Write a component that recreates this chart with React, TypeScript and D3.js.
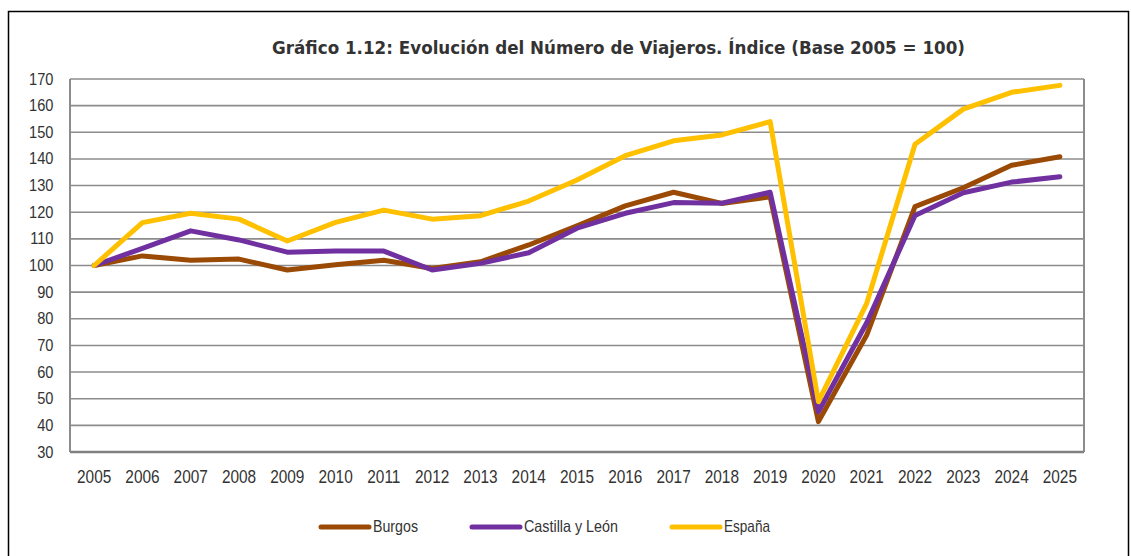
import React from "react";
import * as d3 from "d3";

const years = ["2005","2006","2007","2008","2009","2010","2011","2012","2013","2014","2015","2016","2017","2018","2019","2020","2021","2022","2023","2024","2025"];
const burgos = [100, 103.6, 102.0, 102.4, 98.3, 100.3, 102.0, 98.9, 101.4, 107.7, 114.9, 122.4, 127.5, 123.3, 125.8, 41.4, 73.9, 122.1, 129.2, 137.6, 140.8];
const castilla = [100, 106.4, 113.0, 109.6, 105.0, 105.4, 105.4, 98.3, 100.8, 104.8, 114.0, 119.6, 123.6, 123.4, 127.5, 45.1, 78.5, 118.8, 127.3, 131.3, 133.3];
const espana = [100, 116.1, 119.6, 117.4, 109.2, 116.2, 120.8, 117.4, 118.7, 124.2, 132.1, 141.2, 146.8, 149.0, 154.0, 48.9, 85.8, 145.5, 158.7, 165.0, 167.6];
const yTicks = [30, 40, 50, 60, 70, 80, 90, 100, 110, 120, 130, 140, 150, 160, 170];

const seriesNames = ["Burgos", "Castilla y León", "España"];
const seriesColors = ["#9A4A04", "#7030A0", "#FFC000"];
const seriesData = [burgos, castilla, espana];

const W = 1131, H = 556;
const plot = { left: 70, right: 1084, top: 79, bottom: 452 };
const axisFont = "Liberation Sans, Arial, sans-serif";
const labelFont = "DejaVu Sans, Verdana, sans-serif";

// narrow text (the reference looks horizontally squeezed)
function Narrow({ x, y, anchor, children, size = 17, sx = 0.86 }: any) {
  return (
    <text transform={`translate(${x},${y}) scale(${sx},1)`} textAnchor={anchor} fontFamily={axisFont} fontSize={size} fill="#333">
      {children}
    </text>
  );
}

export default function App() {
  const x = d3.scaleBand<string>().domain(years).range([plot.left, plot.right]);
  const y = d3.scaleLinear().domain([30, 170]).range([plot.bottom, plot.top]);
  const cx = (yr: string) => (x(yr) as number) + x.bandwidth() / 2;
  const line = d3.line<number>()
    .x((_, i) => cx(years[i]))
    .y(d => y(d));

  const legendX = [321, 472, 672];
  const legendW = [45, 94, 46];

  return (
    <svg width={W} height={H} style={{ position: "absolute", left: 0, top: 0, background: "#fff" }}>
      <rect x={8.5} y={11.5} width={1120} height={580} fill="none" stroke="#000" strokeWidth={1.5} />
      <text x={272} y={54} textLength={693} lengthAdjust="spacingAndGlyphs" fontFamily={labelFont} fontWeight="bold" fontSize={18} fill="#333">
        Gráfico 1.12: Evolución del Número de Viajeros. Índice (Base 2005 = 100)
      </text>

      {/* grid */}
      {yTicks.map(t => (
        <g key={t}>
          <line x1={plot.left} x2={plot.right} y1={y(t)} y2={y(t)} stroke="#8c8c8c" strokeWidth={1.6} />
          <Narrow x={53.5} y={y(t) + 5.5} anchor="end">{t}</Narrow>
        </g>
      ))}
      <line x1={plot.left} x2={plot.left} y1={plot.top} y2={plot.bottom} stroke="#8c8c8c" strokeWidth={2} />
      <line x1={plot.right} x2={plot.right} y1={plot.top} y2={plot.bottom} stroke="#8c8c8c" strokeWidth={2} />
      <line x1={plot.left} x2={plot.right} y1={plot.bottom} y2={plot.bottom} stroke="#808080" strokeWidth={2.5} />

      {years.map(yr => (
        <Narrow key={yr} x={cx(yr)} y={482.5} anchor="middle" size={17.5} sx={0.88}>{yr}</Narrow>
      ))}

      {seriesData.map((d, i) => (
        <path key={seriesNames[i]} d={line(d) || ""} fill="none" stroke={seriesColors[i]} strokeWidth={5} strokeLinejoin="round" strokeLinecap="round" />
      ))}

      {seriesNames.map((n, i) => (
        <g key={n}>
          <line x1={legendX[i]} x2={legendX[i] + 48} y1={527} y2={527} stroke={seriesColors[i]} strokeWidth={5} strokeLinecap="round" />
          <text x={legendX[i] + 52} y={531.5} textLength={legendW[i]} lengthAdjust="spacingAndGlyphs" fontFamily={axisFont} fontSize={16.5} fill="#333">{n}</text>
        </g>
      ))}
    </svg>
  );
}
